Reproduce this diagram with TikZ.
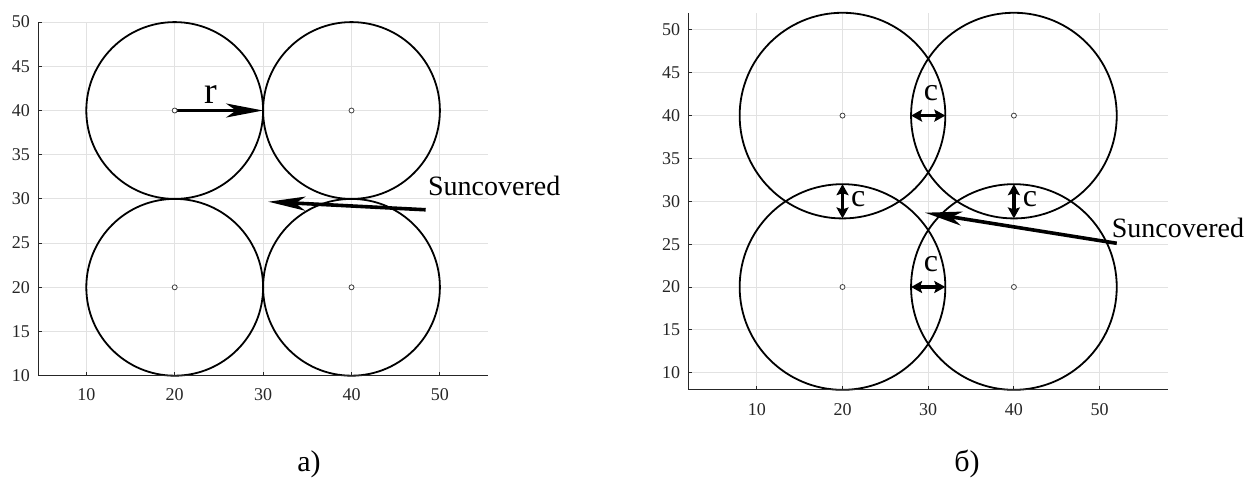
\documentclass[tikz,border=0pt]{standalone}
\usepackage{fontspec}
\setmainfont{Liberation Serif}
\usetikzlibrary{arrows.meta}
\definecolor{axc}{HTML}{262626}
\definecolor{gridc}{HTML}{E2E2E2}
\begin{document}
\begin{tikzpicture}[x=1pt,y=-1pt,
  gridl/.style={draw=gridc,line width=0.9pt},
  axl/.style={draw=axc,line width=1pt},
  circ/.style={draw=black,line width=1.8pt},
  cdot/.style={circle,draw=black!75,fill=white,line width=0.8pt,inner sep=0pt,minimum size=5pt},
  ytl/.style={anchor=east,inner sep=0pt,xshift=-8pt,text=axc,font=\fontsize{18}{21}\selectfont},
  xtl/.style={anchor=north,inner sep=0pt,yshift=-13pt,text=axc,font=\fontsize{18}{21}\selectfont},
  bigarr/.style={line width=3.6pt,-{Stealth[length=37pt,width=14pt,inset=10pt]}},
  carr/.style={line width=3.4pt,{Stealth[length=11pt,width=12pt,inset=2pt]}-{Stealth[length=11pt,width=12pt,inset=2pt]}},
  lbl/.style={inner sep=0pt,font=\fontsize{28}{32}\selectfont},
  biglbl/.style={inner sep=0pt,font=\fontsize{38}{42}\selectfont},
  clbl/.style={inner sep=0pt,font=\fontsize{32}{36}\selectfont},
  capt/.style={inner sep=0pt,font=\fontsize{30}{34}\selectfont}]
\useasboundingbox (0,0) rectangle (1248,479);

% ---------------- Panel a ----------------
\begin{scope}[shift={(-2.1pt,-464.1pt)},x=8.84pt,y=8.84pt]
  \foreach \v in {10,20,...,50} \draw[gridl] (\v,10) -- (\v,50);
  \foreach \v in {10,15,...,50} \draw[gridl] (4.55,\v) -- (55.45,\v);
  \coordinate (a1) at (20,40);
  \coordinate (a2) at (40,40);
  \coordinate (a3) at (20,20);
  \coordinate (a4) at (40,20);
  \foreach \c in {a1,a2,a3,a4} \draw[circ] (\c) circle[radius=10];
  \coordinate (aorg) at (4.55,10);
  \coordinate (atop) at (4.55,50);
  \coordinate (aright) at (55.45,10);
  \draw[axl] (atop) -- (aorg) -- (aright);
  \foreach \v in {10,20,...,50} {
    \draw[axl] (\v,10) -- ++(0pt,4pt);
    \node[xtl] (ax\v) at (\v,10) {\v};
  }
  \foreach \v in {10,15,...,50} {
    \draw[axl] (4.55,\v) -- ++(4pt,0pt);
    \node[ytl] (ay\v) at (4.55,\v) {\v};
  }
  \coordinate (rend) at (30,40);
  \draw[bigarr] (a1) -- (rend);
  \node[biglbl] (rlab) at (24.1,41.8) {r};
  \coordinate (sat) at (48.39,28.77);
  \coordinate (sah) at (30.59,29.68);
  \draw[bigarr] (sat) -- (sah);
  \node[lbl,anchor=base west] (sua) at (48.65,30.33) {Suncovered};
  \foreach \c in {a1,a2,a3,a4} \node[cdot] at (\c) {};
\end{scope}
\node[capt] (capa) at (309,464) {а)};

% ---------------- Panel b ----------------
\begin{scope}[shift={(671.1pt,-458.4pt)},x=8.57pt,y=8.57pt]
  \foreach \v in {10,20,...,50} \draw[gridl] (\v,8) -- (\v,52);
  \foreach \v in {10,15,...,50} \draw[gridl] (2,\v) -- (58,\v);
  \coordinate (b1) at (20,40);
  \coordinate (b2) at (40,40);
  \coordinate (b3) at (20,20);
  \coordinate (b4) at (40,20);
  \foreach \c in {b1,b2,b3,b4} \draw[circ] (\c) circle[radius=12];
  \coordinate (borg) at (2,8);
  \coordinate (btop) at (2,52);
  \coordinate (bright) at (58,8);
  \draw[axl] (btop) -- (borg) -- (bright);
  \foreach \v in {10,20,...,50} {
    \draw[axl] (\v,8) -- ++(0pt,4pt);
    \node[xtl] (bx\v) at (\v,8) {\v};
  }
  \foreach \v in {10,15,...,50} {
    \draw[axl] (2,\v) -- ++(4pt,0pt);
    \node[ytl] (by\v) at (2,\v) {\v};
  }
  % c arrows
  \coordinate (ct1) at (28,40); \coordinate (ct2) at (32,40);
  \coordinate (cb1) at (28,20); \coordinate (cb2) at (32,20);
  \coordinate (cl1) at (20,28); \coordinate (cl2) at (20,32);
  \coordinate (cr1) at (40,28); \coordinate (cr2) at (40,32);
  \draw[carr] (ct1) -- (ct2);
  \draw[carr] (cb1) -- (cb2);
  \draw[carr] (cl1) -- (cl2);
  \draw[carr] (cr1) -- (cr2);
  \node[clbl] (ctl) at (30.33,42.64) {c};
  \node[clbl] (cbl) at (30.33,22.64) {c};
  \node[clbl] (cll) at (21.84,30.23) {c};
  \node[clbl] (crl) at (41.88,30.23) {c};
  \coordinate (sbt) at (52.0,25.1);
  \coordinate (sbh) at (29.63,28.67);
  \draw[bigarr] (sbt) -- (sbh);
  \node[lbl,anchor=base west] (sub) at (51.41,25.8) {Suncovered};
  \foreach \c in {b1,b2,b3,b4} \node[cdot] at (\c) {};
\end{scope}
\node[capt] (capb) at (967,464) {б)};
\end{tikzpicture}
\end{document}
